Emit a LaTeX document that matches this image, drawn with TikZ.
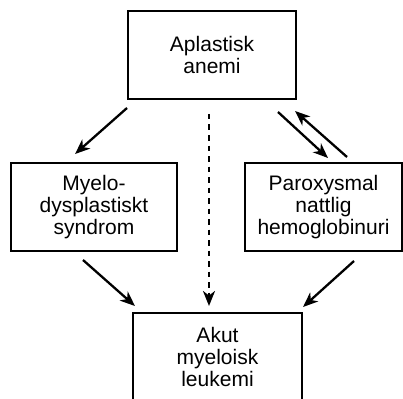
\documentclass[tikz,border=0pt]{standalone}
\usepackage{fontspec}
\setmainfont{Liberation Sans}
\usetikzlibrary{arrows.meta}
\begin{document}
\begin{tikzpicture}[x=1pt,y=-1pt,
  box/.style={draw, line width=1.4pt, inner sep=0pt, align=center,
    font=\fontsize{21}{22}\selectfont},
  arr/.style={line width=2.3pt, -{Stealth[length=15pt,width=12pt,inset=4.5pt]}},
  darr/.style={arr, dash pattern=on 5.5pt off 5pt}]
\useasboundingbox (0,0) rectangle (403,398);
\clip (0,0) rectangle (403,398);
\node[box, minimum width=168pt, minimum height=88pt] (top) at (212,55) {Aplastisk\\anemi};
\node[box, minimum width=166pt, minimum height=88pt] (mds) at (94,207) {Myelo-\\dysplastiskt\\syndrom};
\node[box, minimum width=157pt, minimum height=88pt] (pnh) at (323.5,207) {Paroxysmal\\nattlig\\hemoglobinuri};
\node[box, minimum width=169pt, minimum height=88pt] (aml) at (217.5,357) {Akut\\myeloisk\\leukemi};
% arrow endpoints
\coordinate (a1s) at (127,108); \coordinate (a1e) at (75,154);
\coordinate (a2s) at (209,114); \coordinate (a2e) at (209,306);
\coordinate (a3s) at (278,112); \coordinate (a3e) at (328,158);
\coordinate (a4s) at (347,157); \coordinate (a4e) at (295,111);
\coordinate (a5s) at (83,260); \coordinate (a5e) at (135,306);
\coordinate (a6s) at (354,261); \coordinate (a6e) at (303,307);
\draw[arr] (a1s) -- (a1e);
\draw[darr] (a2s) -- (a2e);
\draw[arr] (a3s) -- (a3e);
\draw[arr] (a4s) -- (a4e);
\draw[arr] (a5s) -- (a5e);
\draw[arr] (a6s) -- (a6e);
\end{tikzpicture}
\end{document}
